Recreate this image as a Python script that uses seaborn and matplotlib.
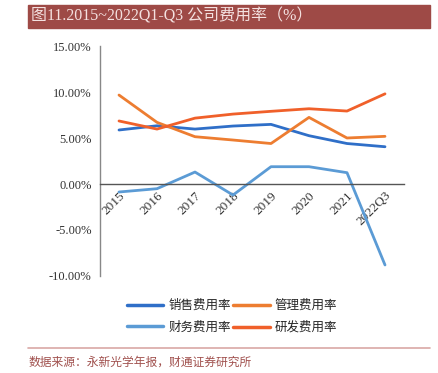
import numpy as np
import pandas as pd
import seaborn as sns
import matplotlib.pyplot as plt
from matplotlib.patches import Rectangle
from matplotlib.lines import Line2D

# datos (%)
years = ['2015', '2016', '2017', '2018', '2019', '2020', '2021', '2022Q3']
xiaoshou = [5.87, 6.33, 5.97, 6.30, 6.48, 5.25, 4.40, 4.05]
guanli = [9.67, 6.70, 5.14, 4.78, 4.40, 7.24, 5.00, 5.18]
caiwu = [-0.87, -0.51, 1.30, -1.20, 1.88, 1.88, 1.23, -8.80]
yanfa = [6.85, 5.97, 7.16, 7.60, 7.90, 8.18, 7.93, 9.80]

names = ['销售费用率', '管理费用率', '财务费用率', '研发费用率']
colors = ['#2F6FC8', '#ED7D31', '#5B9BD5', '#F0602A']

df = pd.DataFrame({'year': years * 4,
                   'x': list(range(len(years))) * 4,
                   'valor': xiaoshou + guanli + caiwu + yanfa,
                   'serie': np.repeat(names, len(years))})

sns.set_style('white')
plt.rcParams['font.family'] = ['Liberation Serif', 'Noto Sans CJK SC']

fig = plt.figure(figsize=(4.38, 3.73), dpi=100)
ax = fig.add_axes([100/438, 1-276/373, 304/438, 230/373])

sns.lineplot(data=df, x='x', y='valor', hue='serie', hue_order=names,
             palette=colors, linewidth=2, ax=ax, legend=False)

# ejes (la posición del spine va primero porque reinicia los ticks)
ax.spines['top'].set_visible(False)
ax.spines['right'].set_visible(False)
ax.spines['bottom'].set_position(('data', 0))
ax.spines['bottom'].set_color('#555555')
ax.spines['left'].set_color('#888888')
ax.spines['bottom'].set_linewidth(1)
ax.spines['left'].set_linewidth(1)

ax.set_xlim(-0.5, 7.5)
ax.set_ylim(-10, 15)
ax.set_yticks(np.arange(-10, 16, 5))
ax.set_yticklabels(['%.2f%%' % v for v in np.arange(-10, 16, 5)], fontsize=9, color='#333333')
ax.set_xticks(range(len(years)))
ax.set_xticks(np.arange(-0.5, 8, 1), minor=True)
ax.tick_params(axis='x', which='major', length=0, pad=4)
ax.tick_params(axis='x', which='minor', length=4, direction='in', color='#555555')
ax.tick_params(axis='y', length=4, direction='out', color='#777777', pad=2)
ax.set_xticklabels(years, fontsize=9.5, color='#333333', rotation=45, ha='right',
                   rotation_mode='anchor')
ax.set_xlabel('')
ax.set_ylabel('')

# leyenda (orden por columnas para que las filas queden como en el original)
orden = [0, 2, 1, 3]
handles = [Line2D([0], [0], color=colors[i], lw=2.5) for i in orden]
fig.legend(handles, [names[i] for i in orden], ncol=2, loc='center',
           bbox_to_anchor=(232/438, 1-317/373), frameon=False, fontsize=9,
           handlelength=2.9, columnspacing=0.2, handletextpad=0.4, labelspacing=0.75)

# título con banda
fig.patches.append(Rectangle((28/438, 1-28/373), 402/438, 23/373,
                             transform=fig.transFigure, color='#9E4A46', zorder=0))
fig.text(31/438, 1-16.5/373, '图11.2015~2022Q1-Q3 公司费用率（%）', color='#F4E1E0',
         fontsize=11.5, va='center', ha='left')

# fuente
fig.add_artist(Line2D([28/438, 430/438], [1-348/373, 1-348/373], color='#D9A8A6', lw=1.2,
                      transform=fig.transFigure))
fig.text(29/438, 1-363/373, '数据来源：永新光学年报，财通证券研究所', color='#A0504D',
         fontsize=8.5, va='center', ha='left')

plt.savefig('out.png', dpi=100)
